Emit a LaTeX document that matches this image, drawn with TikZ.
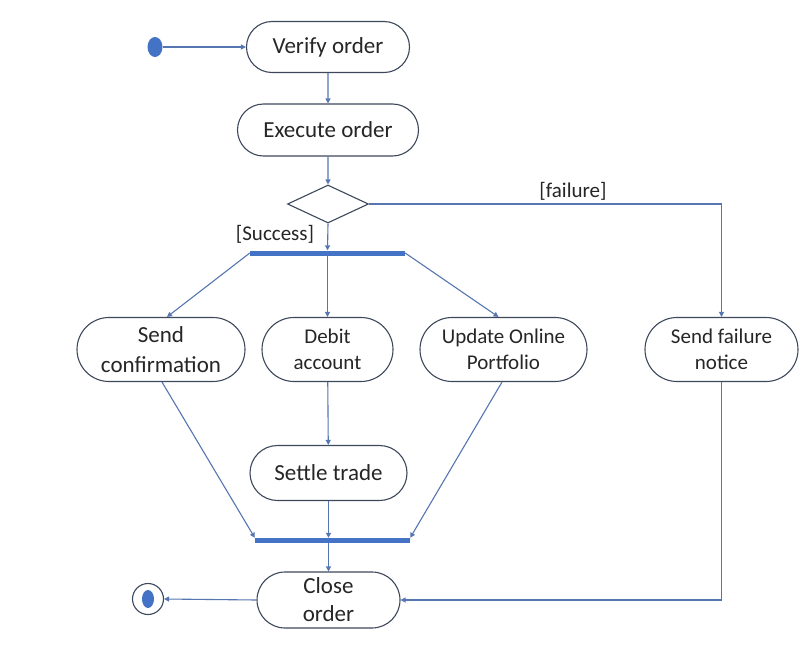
\documentclass[tikz,border=0pt]{standalone}
\usepackage{fontspec}
\setmainfont{Carlito}
\usetikzlibrary{shapes.geometric,shapes.misc,arrows.meta}
\definecolor{lc}{RGB}{86,118,178}
\definecolor{bc}{RGB}{62,72,92}
\definecolor{fc}{RGB}{68,114,196}
\definecolor{tc}{RGB}{38,38,38}
\begin{document}
\begin{tikzpicture}[x=1pt,y=-1pt,
  act/.style={draw=bc, line width=1.1pt, rounded rectangle, inner sep=0pt, align=center, text=tc},
  big/.style={font=\fontsize{23}{29}\selectfont},
  small/.style={font=\fontsize{21}{26}\selectfont},
  conn/.style={draw=lc, line width=1.1pt, -{Triangle[length=5pt,width=5pt]}},
  bar/.style={fill=fc, draw=none, inner sep=0pt, minimum height=5pt},
  lbl/.style={text=tc, font=\fontsize{21}{25}\selectfont, inner sep=0pt}]
\useasboundingbox (0,0) rectangle (812,648);
\fill[white] (0,0) rectangle (812,648);

\node[ellipse, fill=fc, draw=none, minimum width=15pt, minimum height=20pt, inner sep=0pt] (start) at (155,47) {};
\node[act, big, minimum width=163pt, minimum height=51pt] (vo) at (328,47) {Verify order};
\node[act, big, minimum width=181pt, minimum height=52pt] (eo) at (328,130) {Execute order};
\node[diamond, draw=bc, line width=1.1pt, inner sep=0pt, minimum width=81pt, minimum height=38pt] (dm) at (328,204) {};
\node[lbl] (ls) at (275,234) {[Success]};
\node[lbl] (lf) at (573,191) {[failure]};
\node[bar, minimum width=155pt] (fork) at (327.5,253) {};

\node[act, big, minimum width=168pt, minimum height=64pt, font=\fontsize{23}{30}\selectfont] (sc) at (161,349.5) {Send\\confirmation};
\node[act, small, minimum width=131pt, minimum height=64pt] (da) at (327.5,349.5) {Debit\\account};
\node[act, small, minimum width=167pt, minimum height=64pt] (up) at (503.5,349.5) {Update Online\\Portfolio};
\node[act, small, minimum width=153pt, minimum height=64pt] (sf) at (721.5,349.5) {Send failure\\notice};
\node[act, big, minimum width=157pt, minimum height=55pt] (st) at (328.5,473) {Settle trade};
\node[bar, minimum width=155pt] (join) at (332.5,540.5) {};
\node[act, big, minimum width=143pt, minimum height=56pt, font=\fontsize{23}{28}\selectfont] (co) at (328.5,600) {Close\\order};

\node[circle, draw=bc, line width=1.1pt, minimum size=31pt, inner sep=0pt] (end) at (148,599) {};
\node[ellipse, fill=fc, draw=none, minimum width=12pt, minimum height=18pt, inner sep=0pt] (endin) at (end.center) {};

\draw[conn] (start) -- (vo);
\draw[conn] (vo) -- (eo);
\draw[conn] (eo) -- (dm);
\draw[conn] (dm.south) -- (fork.north);
\draw[conn] (dm.east) -| (sf.north);
\draw[conn] (fork.west) -- ([xshift=6pt]sc.north);
\draw[conn] (fork.center) -- (da.north);
\draw[conn] (fork.east) -- ([xshift=-5pt]up.north);
\draw[conn] (da) -- (st);
\draw[conn] ([xshift=1pt]sc.south) -- (join.north west);
\draw[conn] ([xshift=-1.5pt]up.south) -- (join.north east);
\draw[conn] (st.south) -- (st.south |- join.north);
\draw[conn] (co.north |- join.south) -- (co.north);
\draw[conn] (co.west) -- (end.east);
\draw[conn] (sf.south) |- (co.east);
\end{tikzpicture}
\end{document}
